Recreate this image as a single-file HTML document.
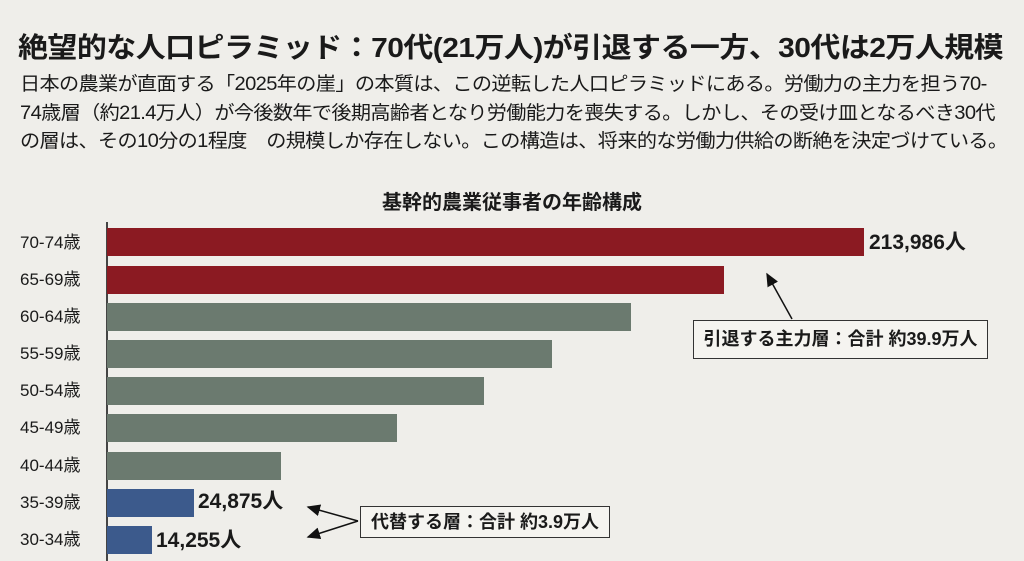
<!DOCTYPE html>
<html><head><meta charset="utf-8"><style>
body{margin:0;width:1024px;height:561px;background:#efeeea;overflow:hidden;font-family:"Liberation Sans","Noto Sans CJK JP",sans-serif;color:#1a1a1a;position:relative}
.t{position:absolute;white-space:nowrap;transform-origin:0 0}
.bar{position:absolute;left:107px;height:28px}
.lab{position:absolute;left:20px;font-size:17px;line-height:28px}
.val{position:absolute;font-size:21px;font-weight:bold;line-height:28px}
.box{position:absolute;border:1.5px solid #333;background:#f5f4f0;font-size:18px;font-weight:bold;text-align:center;white-space:nowrap}
</style></head><body>
<div class="t" style="left:18px;top:26px;font-size:28px;font-weight:bold;letter-spacing:-0.5px;transform:scaleX(1.07)">絶望的な人口ピラミッド：70代(21万人)が引退する一方、30代は2万人規模</div>
<div class="t" style="left:20px;top:71px;font-size:19px;line-height:28.5px;letter-spacing:-0.6px;transform:scaleX(1.06)">日本の農業が直面する「2025年の崖」の本質は、この逆転した人口ピラミッドにある。労働力の主力を担う70-<br>74歳層（約21.4万人）が今後数年で後期高齢者となり労働能力を喪失する。しかし、その受け皿となるべき30代<br>の層は、その10分の1程度　の規模しか存在しない。この構造は、将来的な労働力供給の断絶を決定づけている。</div>
<div class="t" style="left:0;width:1024px;text-align:center;top:186px;font-size:20px;font-weight:bold">基幹的農業従事者の年齢構成</div>
<div style="position:absolute;left:106px;top:222px;width:1.5px;height:339px;background:#444"></div>
<div class="bar" style="top:228px;width:757px;background:#8b1a22"></div>
<div class="bar" style="top:266px;width:617px;background:#8b1a22"></div>
<div class="bar" style="top:303px;width:524px;background:#6b7a6f"></div>
<div class="bar" style="top:340px;width:445px;background:#6b7a6f"></div>
<div class="bar" style="top:377px;width:377px;background:#6b7a6f"></div>
<div class="bar" style="top:414px;width:290px;background:#6b7a6f"></div>
<div class="bar" style="top:452px;width:174px;background:#6b7a6f"></div>
<div class="bar" style="top:489px;width:87px;background:#3c5a8c"></div>
<div class="bar" style="top:526px;width:45px;background:#3c5a8c"></div>
<div class="lab" style="top:229px">70-74歳</div>
<div class="lab" style="top:266px">65-69歳</div>
<div class="lab" style="top:303px">60-64歳</div>
<div class="lab" style="top:340px">55-59歳</div>
<div class="lab" style="top:377px">50-54歳</div>
<div class="lab" style="top:414px">45-49歳</div>
<div class="lab" style="top:452px">40-44歳</div>
<div class="lab" style="top:489px">35-39歳</div>
<div class="lab" style="top:526px">30-34歳</div>
<div class="val" style="left:869px;top:229px">213,986人</div>
<div class="val" style="left:198px;top:488px">24,875人</div>
<div class="val" style="left:156px;top:527px">14,255人</div>
<div class="box" style="left:693px;top:320px;width:293px;height:37px;line-height:37px">引退する主力層：合計 約39.9万人</div>
<div class="box" style="left:360px;top:506px;width:248px;height:30px;line-height:30px">代替する層：合計 約3.9万人</div>
<svg style="position:absolute;left:0;top:0" width="1024" height="561">
<defs><marker id="a" markerWidth="10" markerHeight="10" refX="8" refY="5" orient="auto"><path d="M0,1 L9,5 L0,9 z" fill="#111"/></marker></defs>
<line x1="792" y1="319" x2="767" y2="274" stroke="#111" stroke-width="1.5" marker-end="url(#a)"/>
<line x1="358" y1="521" x2="308" y2="507" stroke="#111" stroke-width="1.5" marker-end="url(#a)"/>
<line x1="358" y1="521" x2="308" y2="537" stroke="#111" stroke-width="1.5" marker-end="url(#a)"/>
</svg>
</body></html>
